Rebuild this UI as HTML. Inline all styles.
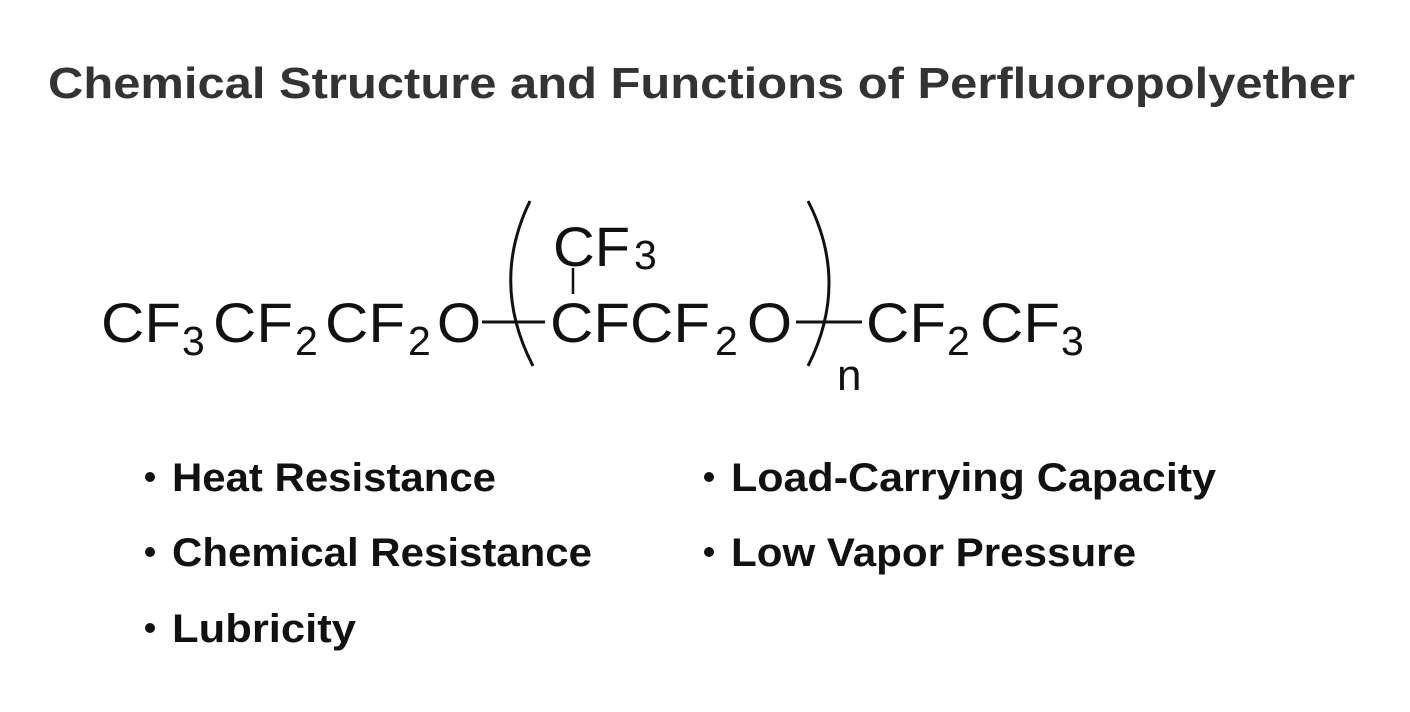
<!DOCTYPE html>
<html><head><meta charset="utf-8"><style>
html,body{margin:0;padding:0;background:#fff;}
svg{display:block;}
.t{font-family:"Liberation Sans",sans-serif;font-weight:bold;fill:#333;}
.b{font-family:"Liberation Sans",sans-serif;font-weight:bold;fill:#111;}
.f{font-family:"Liberation Sans",sans-serif;fill:#111;}
</style></head><body>
<svg width="1410" height="712" viewBox="0 0 1410 712" xmlns="http://www.w3.org/2000/svg">
<text class="t" x="48" y="98" font-size="44" textLength="1307" lengthAdjust="spacingAndGlyphs">Chemical Structure and Functions of Perfluoropolyether</text>

<g class="f" font-size="56">
<text x="101" y="342" textLength="80" lengthAdjust="spacingAndGlyphs">CF</text>
<text x="213" y="342" textLength="80" lengthAdjust="spacingAndGlyphs">CF</text>
<text x="325" y="342" textLength="80" lengthAdjust="spacingAndGlyphs">CF</text>
<text x="437" y="342" textLength="44" lengthAdjust="spacingAndGlyphs">O</text>
<text x="550" y="342" textLength="160" lengthAdjust="spacingAndGlyphs">CFCF</text>
<text x="747" y="342" textLength="45" lengthAdjust="spacingAndGlyphs">O</text>
<text x="866" y="342" textLength="80" lengthAdjust="spacingAndGlyphs">CF</text>
<text x="980" y="342" textLength="80" lengthAdjust="spacingAndGlyphs">CF</text>
<text x="553" y="266" textLength="77" lengthAdjust="spacingAndGlyphs">CF</text>
</g>
<g class="f" font-size="41">
<text x="182" y="355">3</text>
<text x="295" y="355">2</text>
<text x="408" y="355">2</text>
<text x="715" y="355">2</text>
<text x="947" y="355">2</text>
<text x="1061" y="355">3</text>
<text x="634" y="269">3</text>
<text x="837" y="390" font-size="44">n</text>
</g>
<g stroke="#111" stroke-width="3" fill="none">
<line x1="482" y1="322" x2="545" y2="322"/>
<line x1="796" y1="322" x2="862" y2="322"/>
<line x1="573" y1="268" x2="573" y2="294" stroke-width="2.5"/>
<path d="M530 201 Q490 283 533 366"/>
<path d="M808 201 Q850 283 808 366"/>
</g>

<g fill="#111">
<circle cx="150" cy="477" r="5"/>
<circle cx="150" cy="552" r="5"/>
<circle cx="150" cy="628" r="5"/>
<circle cx="709" cy="477" r="5"/>
<circle cx="709" cy="552" r="5"/>
</g>
<g class="b" font-size="40">
<text x="172" y="491" textLength="324" lengthAdjust="spacingAndGlyphs">Heat Resistance</text>
<text x="172" y="566" textLength="420" lengthAdjust="spacingAndGlyphs">Chemical Resistance</text>
<text x="172" y="642" textLength="184" lengthAdjust="spacingAndGlyphs">Lubricity</text>
<text x="731" y="491" textLength="485" lengthAdjust="spacingAndGlyphs">Load-Carrying Capacity</text>
<text x="731" y="566" textLength="405" lengthAdjust="spacingAndGlyphs">Low Vapor Pressure</text>
</g>
</svg>
</body></html>
